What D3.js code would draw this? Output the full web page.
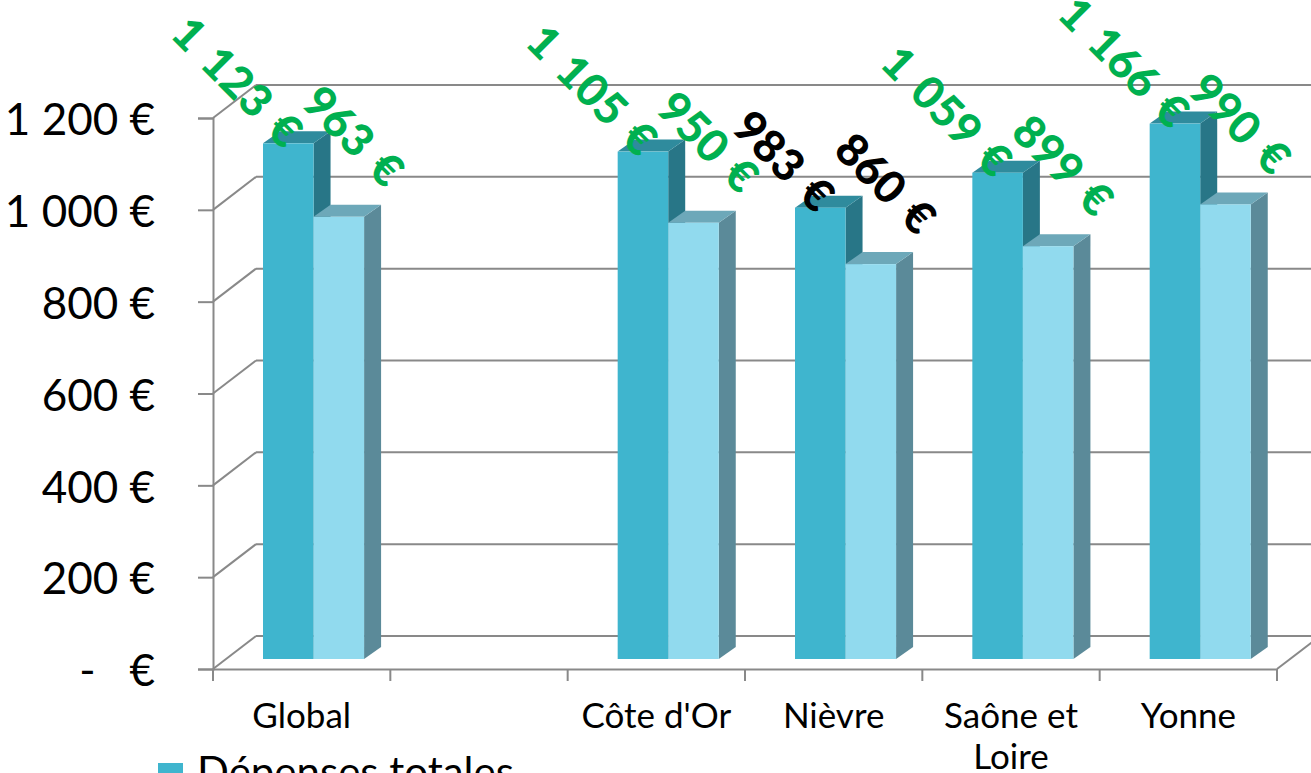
<!DOCTYPE html>
<html>
<head>
<meta charset="utf-8">
<script src="https://cdn.jsdelivr.net/npm/d3@7"></script>
<style>
  html, body { margin: 0; padding: 0; background: #ffffff; overflow: hidden; }
  svg { display: block; }
  text { font-family: "Lato", "DejaVu Sans", sans-serif; }
</style>
</head>
<body>
<svg id="chart" width="1311" height="773"></svg>
<script>
// Categories (one empty slot between "Global" and the departments)
const categories = ["Global", "", "Côte d'Or", "Nièvre", "Saône et Loire", "Yonne"];
// Per-inhabitant spending, in euros
const depensesTotales = [1123, null, 1105, 983, 1059, 1166];
const depensesSerie2 = [963, null, 950, 860, 899, 990];
const seriesNames = ["Dépenses totales"];
const yTickValues = [0, 200, 400, 600, 800, 1000, 1200];

const svg = d3.select("#chart");

// Front plane of the 3D box
const plot = { left: 213, right: 1277, top: 118, bottom: 669 };
const wallDx = 43, wallDy = -33;        // depth of the back wall
const barDx = 17, barDy = -12;          // depth of each column
const barLift = 10;                     // columns stand slightly behind the front edge

const x = d3.scaleBand().domain(categories).range([plot.left, plot.right]).padding(0);
const y = d3.scaleLinear().domain([0, 1200]).range([plot.bottom, plot.top]);

const gridColor = "#898989";
const fmt = v => d3.format(",")(v).replace(/,/g, " ") + " €";

// ---- walls & gridlines ----
const grid = svg.append("g").attr("stroke", gridColor).attr("stroke-width", 2).attr("fill", "none");
yTickValues.forEach(v => {
  const yf = y(v), yb = y(v) + wallDy;
  grid.append("line").attr("x1", plot.left).attr("y1", yf).attr("x2", plot.left + wallDx).attr("y2", yb);
  grid.append("line").attr("x1", plot.left + wallDx).attr("y1", yb).attr("x2", plot.right + wallDx + 40).attr("y2", yb);
});
// floor outline
grid.append("line").attr("x1", plot.right).attr("y1", plot.bottom)
  .attr("x2", plot.right + wallDx).attr("y2", plot.bottom + wallDy);

// ---- value axis ----
const yAxis = d3.axisLeft(y).tickValues(yTickValues).tickSize(15)
  .tickFormat(v => v === 0 ? "-   €" : fmt(v));
const gy = svg.append("g").attr("transform", `translate(${plot.left},0)`).call(yAxis);
gy.select(".domain").attr("stroke", gridColor).attr("stroke-width", 2);
gy.selectAll(".tick line").attr("stroke", gridColor).attr("stroke-width", 2);
gy.selectAll(".tick text")
  .attr("x", -58).attr("dy", "0.38em")
  .style("white-space", "pre")
  .attr("font-size", 44).attr("fill", "#000");

// ---- category axis ----
const xAxis = d3.axisBottom(x).tickSize(0).tickFormat(d => d);
const gx = svg.append("g").attr("transform", `translate(0,${plot.bottom})`).call(xAxis);
gx.select(".domain").attr("stroke", gridColor).attr("stroke-width", 2);
gx.selectAll(".tick text").attr("font-size", 35).attr("fill", "#000").attr("y", 59).attr("dy", 0);
// tick marks at the slot boundaries
const bounds = categories.map(c => x(c)).concat([plot.right]);
gx.selectAll("line.bound").data(bounds).join("line").attr("class", "bound")
  .attr("x1", d => d).attr("x2", d => d).attr("y1", 0).attr("y2", 12)
  .attr("stroke", gridColor).attr("stroke-width", 2);

// wrap long category names
gx.selectAll(".tick text").each(function () {
  const t = d3.select(this);
  const words = t.text().split(/\s+/);
  if (!words[0]) return;
  t.text(null);
  let line = [], tspan = t.append("tspan").attr("x", 0).attr("dy", 0);
  words.forEach(w => {
    line.push(w);
    tspan.text(line.join(" "));
    if (tspan.node().getComputedTextLength() > 170 && line.length > 1) {
      line.pop();
      tspan.text(line.join(" "));
      line = [w];
      tspan = t.append("tspan").attr("x", 0).attr("dy", 41).text(w);
    }
  });
});

// ---- 3D columns ----
const barW = x.bandwidth() * 0.285;
const series = [
  { values: depensesTotales, offset: x.bandwidth() * 0.282, front: "#3FB5CE", side: "#287687", top: "#2F8B9D", lab: [-5, 7] },
  { values: depensesSerie2, offset: x.bandwidth() * 0.282 + barW, front: "#91DAEE", side: "#5B8A99", top: "#6DA8B9", lab: [46, -27] }
];
const base = v => y(v) - barLift;

const bars = svg.append("g");
categories.forEach((c, i) => {
  series.forEach(s => {
    const v = s.values[i];
    if (v == null) return;
    const x0 = x(c) + s.offset, x1 = x0 + barW;
    const yb = base(0), yt = base(v);
    const g = bars.append("g");
    g.append("path").attr("fill", s.side)
      .attr("d", `M${x1},${yt}L${x1 + barDx},${yt + barDy}L${x1 + barDx},${yb + barDy}L${x1},${yb}Z`);
    g.append("path").attr("fill", s.top)
      .attr("d", `M${x0},${yt}L${x0 + barDx},${yt + barDy}L${x1 + barDx},${yt + barDy}L${x1},${yt}Z`);
    g.append("rect").attr("fill", s.front)
      .attr("x", x0).attr("y", yt).attr("width", barW).attr("height", yb - yt);
  });
});

// ---- data labels (rotated 45°) ----
const labels = svg.append("g");
categories.forEach((c, i) => {
  series.forEach(s => {
    const v = s.values[i];
    if (v == null) return;
    const cx = x(c) + s.offset + barW / 2 + s.lab[0];
    const cy = base(v) + s.lab[1];
    labels.append("text")
      .attr("transform", `translate(${cx},${cy}) rotate(45)`)
      .attr("text-anchor", "end")
      .attr("font-size", 45).attr("font-weight", 900)
      .style("word-spacing", "5px")
      .attr("fill", c === "Nièvre" ? "#000000" : "#00B050")
      .text(fmt(v));
  });
});

// ---- legend ----
const legend = svg.append("g").attr("transform", "translate(158,763)");
legend.append("rect").attr("width", 25).attr("height", 25).attr("fill", "#3FB5CE");
legend.append("text").attr("x", 39).attr("y", 24).attr("font-size", 42).attr("fill", "#000")
  .text(seriesNames[0]);
</script>
</body>
</html>
